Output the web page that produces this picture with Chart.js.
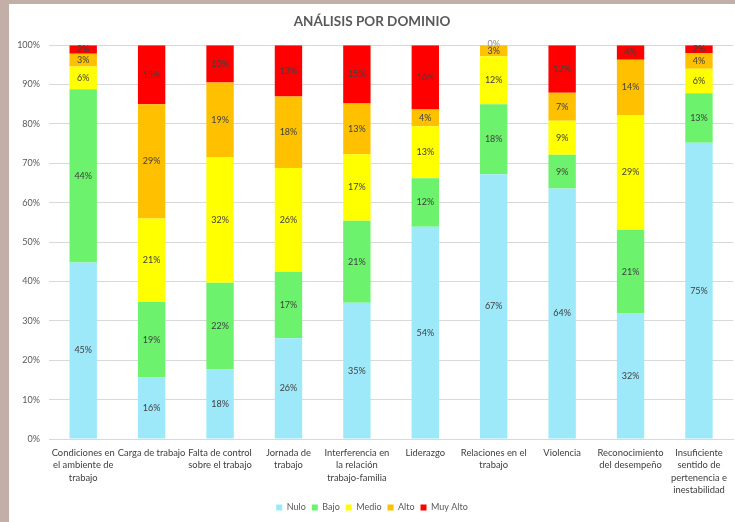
<!DOCTYPE html>
<html>
<head>
<meta charset="utf-8">
<script src="https://cdn.jsdelivr.net/npm/chart.js@4"></script>
<style>
  html, body { margin: 0; padding: 0; background: #c3aea8; }
  #frame { position: absolute; left: 9px; top: 4px; width: 726px; height: 518px; background: #fff; }
  #chart { display: block; }
</style>
</head>
<body>
<div id="frame"><canvas id="chart" width="726" height="518"></canvas></div>
<script>
const categories = [
    ['Condiciones en', 'el ambiente de', 'trabajo'],
    ['Carga de trabajo'],
    ['Falta de control', 'sobre el trabajo'],
    ['Jornada de', 'trabajo'],
    ['Interferencia en', 'la relación', 'trabajo-familia'],
    ['Liderazgo'],
    ['Relaciones en el', 'trabajo'],
    ['Violencia'],
    ['Reconocimiento', 'del desempeño'],
    ['Insuficiente', 'sentido de', 'pertenencia e', 'inestabilidad']
];
const nulo    = [44.8, 15.6, 17.7, 25.6, 34.6, 53.9, 67.2, 63.6, 31.9, 75.2];
const bajo    = [44.0, 19.2, 22.0, 16.9, 20.8, 12.3, 17.8,  8.6, 21.2, 12.6];
const medio   = [ 5.8, 21.2, 31.8, 26.3, 16.9, 13.2, 12.2,  8.6, 29.2,  6.2];
const alto    = [ 3.2, 29.0, 19.0, 18.2, 12.9,  4.3,  2.8,  7.1, 14.0,  4.0];
const muyAlto = [ 2.2, 15.0,  9.5, 13.0, 14.8, 16.3,  0.0, 12.1,  3.7,  2.0];
const yTicks = [0, 10, 20, 30, 40, 50, 60, 70, 80, 90, 100];

const FONT = 'Lato, "Open Sans", sans-serif';

// value labels drawn in the middle of each segment
const segmentLabels = {
    id: 'segmentLabels',
    afterDatasetsDraw(chart) {
        const ctx = chart.ctx;
        ctx.save();
        ctx.font = '9px ' + FONT;
        ctx.textAlign = 'center';
        ctx.textBaseline = 'middle';
        chart.data.datasets.forEach((ds, i) => {
            const meta = chart.getDatasetMeta(i);
            meta.data.forEach((bar, j) => {
                const v = ds.data[j];
                ctx.fillStyle = v === 0 ? '#8c8c8c' : '#404040';
                const y = v === 0 ? bar.y - 1 : (bar.y + bar.base) / 2;
                ctx.fillText(Math.round(v) + '%', bar.x, y);
            });
        });
        ctx.restore();
    }
};

new Chart(document.getElementById('chart'), {
    type: 'bar',
    data: {
        labels: categories,
        datasets: [
            { label: 'Nulo', data: nulo, backgroundColor: '#9de8f9' },
            { label: 'Bajo', data: bajo, backgroundColor: '#6cf26c' },
            { label: 'Medio', data: medio, backgroundColor: '#ffff00' },
            { label: 'Alto', data: alto, backgroundColor: '#ffc000' },
            { label: 'Muy Alto', data: muyAlto, backgroundColor: '#ff0000' }
        ]
    },
    options: {
        responsive: false,
        animation: false,
        layout: { padding: { left: 0, right: 0, top: 0, bottom: 0 } },
        datasets: { bar: { categoryPercentage: 1, barPercentage: 0.4 } },
        plugins: {
            title: {
                display: true,
                text: 'ANÁLISIS POR DOMINIO',
                color: '#595959',
                font: { family: FONT, size: 13.5, weight: 'bold' },
                padding: { top: 10, bottom: 15 }
            },
            legend: {
                position: 'bottom',
                labels: {
                    color: '#595959',
                    font: { family: FONT, size: 9 },
                    boxWidth: 6,
                    boxHeight: 6,
                    padding: 6
                }
            },
            tooltip: { enabled: false }
        },
        scales: {
            x: {
                stacked: true,
                grid: { display: false, drawTicks: false },
                border: { color: '#d9d9d9' },
                ticks: {
                    color: '#404040',
                    font: { family: FONT, size: 9.4, lineHeight: 1.3 },
                    maxRotation: 0,
                    autoSkip: false,
                    padding: 8
                },
                afterFit: (scale) => { scale.height = 58; }
            },
            y: {
                stacked: true,
                min: 0,
                max: 100,
                afterBuildTicks: (scale) => { scale.ticks = yTicks.map(v => ({ value: v })); },
                grid: { color: '#d9d9d9', drawTicks: false },
                border: { display: false },
                ticks: {
                    color: '#595959',
                    font: { family: FONT, size: 9 },
                    padding: 9,
                    callback: (v) => v + '%'
                },
                afterFit: (scale) => { scale.width = 40; }
            }
        }
    },
    plugins: [segmentLabels]
});
</script>
</body>
</html>
